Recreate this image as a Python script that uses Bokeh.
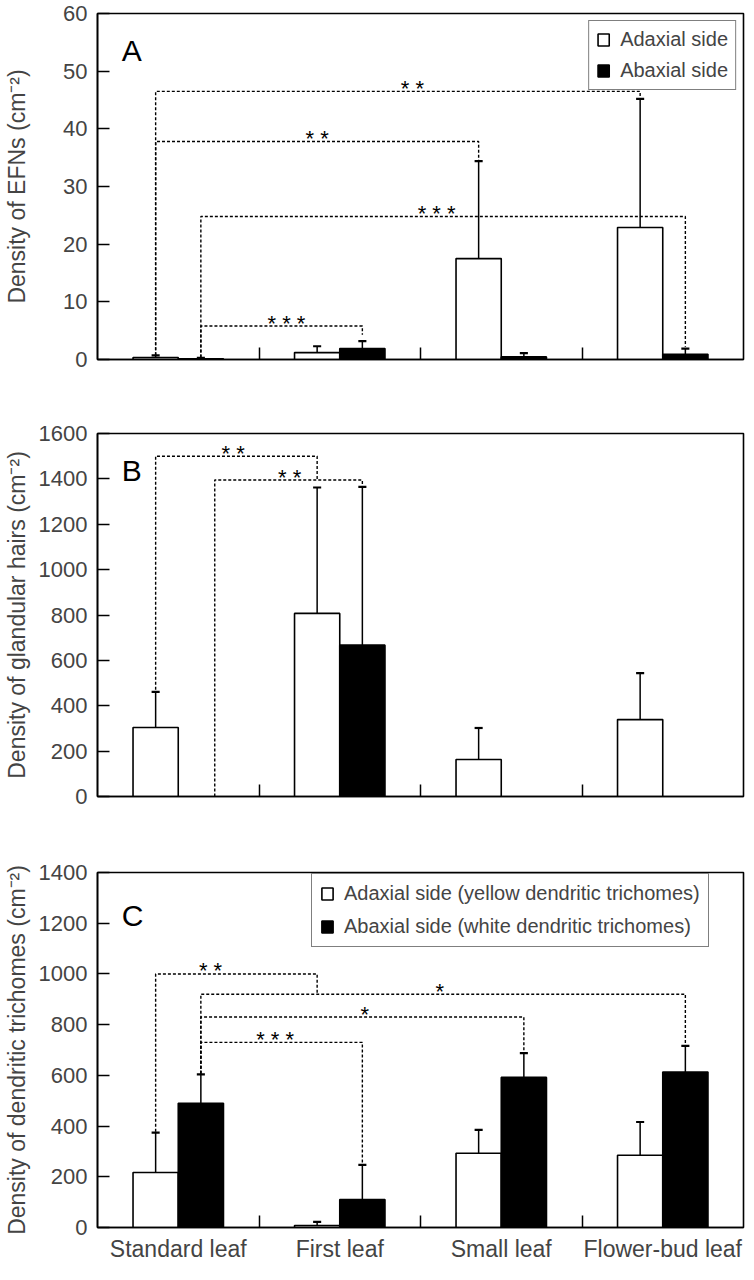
from bokeh.plotting import figure
from bokeh.models import (ColumnDataSource, FixedTicker, Legend, LegendItem, Range1d, Label)
from bokeh.layouts import column
from bokeh.embed import file_html
from bokeh.resources import INLINE
from bokeh.core.properties import value

FONT = "Liberation Sans"

categories = ["Standard leaf", "First leaf", "Small leaf", "Flower-bud leaf"]

# Panel A: EFNs
efn_adaxial = [0.35, 1.2, 17.5, 22.9]
efn_adaxial_err = [0.35, 1.1, 16.9, 22.3]
efn_abaxial = [0.1, 1.9, 0.45, 0.9]
efn_abaxial_err = [0.2, 1.3, 0.65, 1.0]

# Panel B: glandular hairs
gh_adaxial = [304, 807, 163, 339]
gh_adaxial_err = [157, 555, 139, 205]
gh_abaxial = [0, 667, 0, 0]
gh_abaxial_err = [0, 698, 0, 0]

# Panel C: dendritic trichomes
dt_adaxial = [217, 8, 293, 285]
dt_adaxial_err = [157, 14, 92, 131]
dt_abaxial = [490, 110, 592, 613]
dt_abaxial_err = [114, 137, 96, 103]

# significance brackets: (x_start, y_start, y_level, x_end, y_end, label, label_x)
brackets_a = [
    (0.36, 0.75, 46.5, 3.36, 45.4, "* *", 1.95),
    (0.36, 0.75, 37.8, 2.36, 34.6, "* *", 1.36),
    (0.64, 0.35, 24.8, 3.64, 2.2, "* * *", 2.10),
    (0.64, 0.35, 5.8, 1.64, 4.3, "* * *", 1.17),
]
brackets_b = [
    (0.36, 470, 1500, 1.36, 1395, "* *", 0.84),
    (0.726, 0, 1395, 1.64, 1368, "* *", 1.19),
]
brackets_c = [
    (0.36, 378, 1000, 1.36, 925, "* *", 0.70),
    (0.64, 606, 920, 3.64, 718, "*", 2.12),
    (0.64, 606, 830, 2.64, 690, "*", 1.655),
    (0.64, 606, 730, 1.64, 250, "* * *", 1.10),
]

OFF = 0.14
BW = 0.28
CAP = 0.025


def make_panel(adax, adax_err, abax, abax_err, ymax, ystep, ylabel, letter,
               letter_y, brackets, height, top, bottom, label_standoff,
               show_xlabels):
    p = figure(width=746, height=height, output_backend="svg",
               toolbar_location=None, x_range=Range1d(0, 4),
               y_range=Range1d(0, ymax), min_border_left=93,
               min_border_right=3, min_border_top=top,
               min_border_bottom=bottom)
    p.xgrid.visible = False
    p.ygrid.visible = False
    p.outline_line_color = "black"
    p.outline_line_width = 1.6
    p.background_fill_color = "white"
    p.border_fill_color = "white"

    xs_a = [i + 0.5 - OFF for i in range(len(categories))]
    xs_b = [i + 0.5 + OFF for i in range(len(categories))]

    for xs, vals, errs in ((xs_a, adax, adax_err), (xs_b, abax, abax_err)):
        ex, ey0, ey1, cx0, cx1 = [], [], [], [], []
        for x, v, e in zip(xs, vals, errs):
            if e > 0:
                ex.append(x); ey0.append(v); ey1.append(v + e)
                cx0.append(x - CAP); cx1.append(x + CAP)
        src = ColumnDataSource(dict(x=ex, y0=ey0, y1=ey1, cx0=cx0, cx1=cx1))
        p.segment(x0="x", y0="y0", x1="x", y1="y1", source=src,
                  line_color="black", line_width=1.5)
        p.segment(x0="cx0", y0="y1", x1="cx1", y1="y1", source=src,
                  line_color="black", line_width=2.2)

    src_a = ColumnDataSource(dict(x=xs_a, top=adax))
    src_b = ColumnDataSource(dict(x=[x for x, v in zip(xs_b, abax) if v > 0],
                                  top=[v for v in abax if v > 0]))
    r_a = p.vbar(x="x", top="top", width=BW, source=src_a, fill_color="white",
                 line_color="black", line_width=1.6)
    r_b = p.vbar(x="x", top="top", width=BW, source=src_b, fill_color="black",
                 line_color="black", line_width=1.6)

    mx, my, lx, ly, lt = [], [], [], [], []
    for x0, y0, yl, x1, y1, lab, labx in brackets:
        mx.append([x0, x0, x1, x1])
        my.append([y0, yl, yl, y1])
        lx.append(labx); ly.append(yl); lt.append(lab)
    p.multi_line(xs=mx, ys=my, line_color="black", line_width=1.4,
                 line_dash="3 2")
    p.text(x=lx, y=ly, text=lt, text_font=value(FONT),
           text_font_size="22px", text_align="center",
           text_baseline="alphabetic", y_offset=-3, text_color="black")

    p.add_layout(Label(x=0.15, y=letter_y, text=letter, text_font=FONT,
                       text_font_size="30px", text_baseline="alphabetic",
                       text_color="black"))

    yax = p.yaxis[0]
    yax.ticker = FixedTicker(ticks=list(range(0, ymax + 1, ystep)))
    yax.major_tick_in = 12
    yax.major_tick_out = 0
    yax.minor_tick_line_color = None
    yax.major_tick_line_width = 1.5
    yax.axis_line_width = 1.6
    yax.major_label_text_font = FONT
    yax.major_label_text_font_size = "22px"
    yax.major_label_standoff = 10
    yax.axis_label = ylabel
    yax.axis_label_text_font = FONT
    yax.axis_label_text_font_size = "23px"
    yax.axis_label_text_font_style = "normal"
    yax.axis_label_standoff = label_standoff

    xax = p.xaxis[0]
    if show_xlabels:
        xax.ticker = FixedTicker(ticks=[i + 0.5 for i in range(len(categories))],
                                 minor_ticks=[1, 2, 3])
        xax.major_label_overrides = {i + 0.5: c for i, c in enumerate(categories)}
        xax.major_label_text_font = FONT
        xax.major_label_text_font_size = "23px"
        xax.major_label_standoff = 8
    else:
        xax.ticker = FixedTicker(ticks=[], minor_ticks=[1, 2, 3])
    xax.major_tick_in = 0
    xax.major_tick_out = 0
    xax.minor_tick_in = 12
    xax.minor_tick_out = 0
    xax.minor_tick_line_width = 1.5
    xax.axis_line_width = 1.6
    return p, r_a, r_b


pA, ra, rb = make_panel(efn_adaxial, efn_adaxial_err, efn_abaxial, efn_abaxial_err,
                        60, 10, "Density of EFNs (cm\u207b\u00b2)", "A", 53.6,
                        brackets_a, 397, 13, 38, 30, False)
legA = Legend(items=[LegendItem(label="Adaxial side", renderers=[ra]),
                     LegendItem(label="Abaxial side", renderers=[rb])],
              location="top_right", margin=7, padding=7, spacing=8,
              label_text_font=FONT, label_text_font_size="20px",
              label_height=19, glyph_width=14, glyph_height=15,
              label_standoff=10, border_line_color="black",
              border_line_width=1.5, background_fill_alpha=1)
pA.add_layout(legA)

pB, _, _ = make_panel(gh_adaxial, gh_adaxial_err, gh_abaxial, gh_abaxial_err,
                      1600, 200, "Density of glandular hairs (cm\u207b\u00b2)", "B",
                      1437, brackets_b, 440, 36, 41, 6, False)

pC, rca, rcb = make_panel(dt_adaxial, dt_adaxial_err, dt_abaxial, dt_abaxial_err,
                          1400, 200, "Density of dendritic trichomes (cm\u207b\u00b2)", "C",
                          1229, brackets_c, 427, 35, 34, 6, True)
legC = Legend(items=[LegendItem(label="Adaxial side (yellow dendritic trichomes)", renderers=[rca]),
                     LegendItem(label="Abaxial side (white dendritic trichomes)", renderers=[rcb])],
              location=(214, 280), padding=8, spacing=10,
              label_text_font=FONT, label_text_font_size="20px",
              label_height=20, glyph_width=14, glyph_height=15,
              label_standoff=10, border_line_color="black",
              border_line_width=1.5, background_fill_alpha=1)
pC.add_layout(legC)

layout = column(pA, pB, pC, spacing=0)
open("out.html", "w").write(file_html(layout, INLINE))
